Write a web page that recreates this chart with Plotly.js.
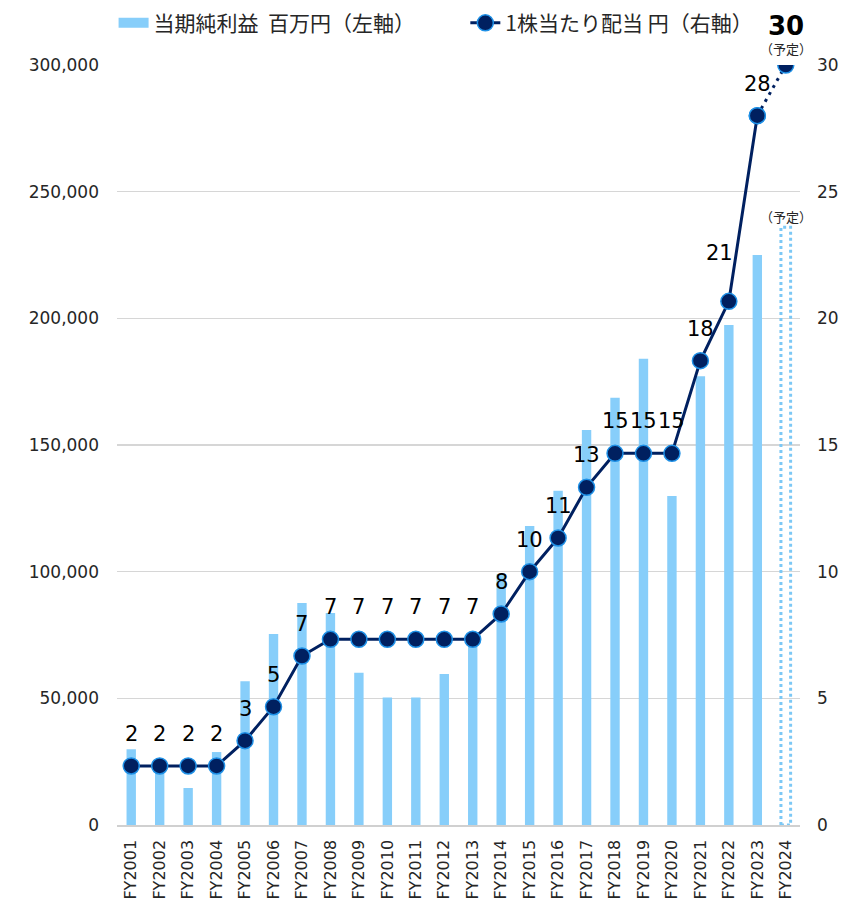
<!DOCTYPE html>
<html>
<head>
<meta charset="utf-8">
<script src="https://cdn.plot.ly/plotly-3.0.1.min.js"></script>
<style>
  html, body { margin: 0; padding: 0; background: #fff; }
  #chart { width: 841px; height: 902px; }
</style>
</head>
<body>
<div id="chart"></div>
<script>
// fiscal years
const years = ['FY2001', 'FY2002', 'FY2003', 'FY2004', 'FY2005', 'FY2006', 'FY2007', 'FY2008',
  'FY2009', 'FY2010', 'FY2011', 'FY2012', 'FY2013', 'FY2014', 'FY2015', 'FY2016',
  'FY2017', 'FY2018', 'FY2019', 'FY2020', 'FY2021', 'FY2022', 'FY2023', 'FY2024'];

// net income, million yen (FY2001-FY2023 actual)
const netIncome = [29900, 24000, 14600, 28800, 56700, 75400, 87600, 83700,
  60100, 50300, 50300, 59600, 72000, 99000, 118000, 131900,
  155900, 168700, 184000, 129900, 177100, 197400, 225000];
const netIncomePlan = 236000; // FY2024 forecast

// dividend per share, yen (split adjusted, FY2001-FY2023 actual)
const dividend = [2.33, 2.33, 2.33, 2.33, 3.33, 4.67, 6.67, 7.33,
  7.33, 7.33, 7.33, 7.33, 7.33, 8.33, 10, 11.33,
  13.33, 14.67, 14.67, 14.67, 18.33, 20.67, 28];
const dividendPlan = 30; // FY2024 forecast

const barColor = '#87CEFA';
const lineColor = '#002060';
const markerEdge = '#1E90E6';
const tickFont = { family: 'DejaVu Sans, Verdana, sans-serif', size: 17, color: '#262626' };
const jpFont = 'Noto Sans CJK JP, sans-serif';

const actualYears = years.slice(0, netIncome.length);
const lastYear = years[years.length - 1];

// legend-only entry, to get a wide flat swatch like the original
const incomeLegend = {
  x: [null], y: [null], type: 'scatter', mode: 'lines',
  name: '当期純利益\u00a0\u00a0百万円（左軸）',
  line: { color: barColor, width: 13 },
  legend: 'legend',
  hoverinfo: 'skip'
};

const incomeBars = {
  x: actualYears, y: netIncome, type: 'bar',
  marker: { color: barColor },
  showlegend: false
};

const dividendPlanLine = {
  x: [actualYears[actualYears.length - 1], lastYear],
  y: [dividend[dividend.length - 1], dividendPlan],
  yaxis: 'y2', type: 'scatter', mode: 'lines+markers',
  line: { color: lineColor, width: 3, dash: '3px,5px' },
  marker: { color: lineColor, size: 16, line: { color: markerEdge, width: 1.5 } },
  showlegend: false
};

const dividendLine = {
  x: actualYears, y: dividend, yaxis: 'y2', type: 'scatter', mode: 'lines+markers',
  name: '1株当たり配当 円（右軸）',
  line: { color: lineColor, width: 3 },
  marker: { color: lineColor, size: 16, line: { color: markerEdge, width: 1.5 } },
  legend: 'legend2'
};

// value labels above the dividend points
const labelFont = { family: 'DejaVu Sans, Verdana, sans-serif', size: 21, color: '#000' };
const annotations = dividend.map((v, i) => {
  const txt = String(Math.round(v));
  // the 21 label sits up and to the left of its point
  const special = txt === '21';
  return {
    x: actualYears[i], y: v, xref: 'x', yref: 'y2',
    text: txt, showarrow: false, font: labelFont,
    xanchor: 'center', yanchor: 'middle',
    xshift: special ? -9 : 0, yshift: special ? 48 : 32
  };
});

annotations.push({
  x: lastYear, y: dividendPlan, xref: 'x', yref: 'y2',
  text: '<b>' + dividendPlan + '</b>', showarrow: false,
  font: { family: 'DejaVu Sans, Verdana, sans-serif', size: 26, color: '#000' },
  yanchor: 'middle', yshift: 39
});
annotations.push({
  x: lastYear, y: dividendPlan, xref: 'x', yref: 'y2',
  text: '（予定）', showarrow: false,
  font: { family: jpFont, size: 13, color: '#262626' },
  yanchor: 'middle', yshift: 17
});
annotations.push({
  x: lastYear, y: netIncomePlan, xref: 'x', yref: 'y',
  text: '（予定）', showarrow: false,
  font: { family: jpFont, size: 13, color: '#262626' },
  yanchor: 'middle', yshift: 11
});

// FY2024 forecast bar, dotted outline
const planIdx = years.length - 1;
const shapes = [{
  type: 'rect', xref: 'x', yref: 'y',
  x0: planIdx - 0.17, x1: planIdx + 0.17, y0: 0, y1: netIncomePlan,
  line: { color: '#7CC8F5', width: 3, dash: '3px,3px' },
  fillcolor: 'rgba(0,0,0,0)'
}];

const legendFont = { family: jpFont, size: 21, color: '#262626' };

const layout = {
  width: 841, height: 902,
  margin: { l: 117, r: 41, t: 65, b: 77, autoexpand: false },
  paper_bgcolor: '#fff', plot_bgcolor: '#fff',
  bargap: 0.67,
  showlegend: true,
  legend: {
    orientation: 'h', x: -0.005, xanchor: 'left', y: 1.055, yanchor: 'middle',
    font: legendFont, bgcolor: 'rgba(0,0,0,0)'
  },
  legend2: {
    orientation: 'h', x: 0.51, xanchor: 'left', y: 1.055, yanchor: 'middle',
    font: legendFont, bgcolor: 'rgba(0,0,0,0)'
  },
  xaxis: {
    type: 'category', categoryarray: years, range: [-0.5, years.length - 0.5],
    tickangle: -90, tickfont: Object.assign({}, tickFont, { size: 16 }), ticks: '', ticklabelstandoff: 7,
    showline: true, linecolor: '#d0d0d0', linewidth: 1.5, showgrid: false
  },
  yaxis: {
    range: [0, 300000], dtick: 50000, tickformat: ',d',
    tickfont: tickFont, ticks: '', ticklabelstandoff: 17,
    showgrid: true, gridcolor: '#d6d6d6', gridwidth: 1.3, zeroline: false
  },
  yaxis2: {
    overlaying: 'y', side: 'right', range: [0, 30], dtick: 5,
    tickfont: tickFont, ticks: '', ticklabelstandoff: 16,
    showgrid: false, zeroline: false
  },
  annotations: annotations,
  shapes: shapes
};

Plotly.newPlot('chart', [incomeLegend, incomeBars, dividendPlanLine, dividendLine], layout,
  { displayModeBar: false, staticPlot: true });
</script>
</body>
</html>
